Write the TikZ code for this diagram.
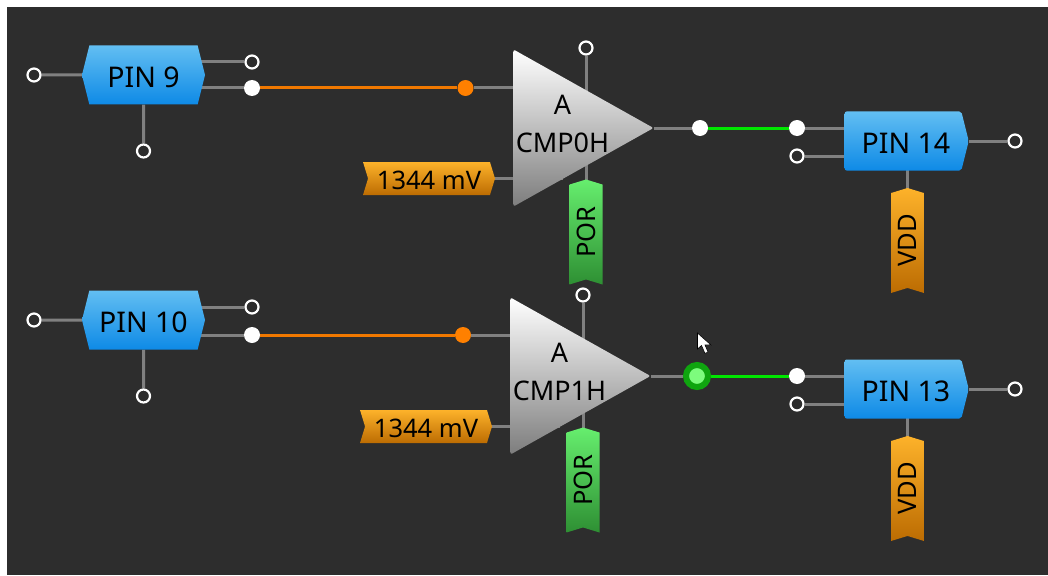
\documentclass[tikz,border=0pt]{standalone}
\usepackage{fontspec}
\setmainfont{Noto Sans}
\usetikzlibrary{shapes.geometric}
\usetikzlibrary{shapes.symbols}
\usetikzlibrary{backgrounds}
\definecolor{bgdark}{HTML}{2D2D2D}
\definecolor{wiregray}{HTML}{808080}
\definecolor{wireorange}{HTML}{F07800}
\definecolor{wiregreen}{HTML}{00E600}
\definecolor{pintop}{HTML}{62BEF2}
\definecolor{pinbot}{HTML}{0E8AE6}
\definecolor{tagtop}{HTML}{FDB22A}
\definecolor{tagbot}{HTML}{BC6C02}
\definecolor{portop}{HTML}{66EE6E}
\definecolor{porbot}{HTML}{2E8F33}
\definecolor{cmpbot}{HTML}{7D7D7D}
\definecolor{glowdark}{HTML}{0FA50F}
\definecolor{glowlight}{HTML}{7DFC7D}
\definecolor{orangedot}{HTML}{FF8000}
\tikzset{
    termo/.style = {circle, draw=white, line width=2.2pt, fill=bgdark, minimum size=13pt, inner sep=0pt},
    termw/.style = {circle, fill=white, minimum size=16pt, inner sep=0pt},
    termr/.style = {circle, fill=orangedot, minimum size=16pt, inner sep=0pt},
    termg/.style = {circle, draw=glowdark, line width=6pt, fill=glowlight, minimum size=22pt, inner sep=0pt},
    pinnode/.style = {signal, signal to=east, signal pointer angle=152, minimum width=123pt, minimum height=59pt, inner sep=0pt, text height=25pt, text depth=0pt,
        top color=pintop, bottom color=pinbot, font=\fontsize{28.5}{34}\selectfont},
    pinnodel/.style = {pinnode, signal to=east and west},
    pinnoder/.style = {pinnode, signal from=nowhere, rounded corners=2pt, minimum width=124pt, execute at begin node=\hspace*{6pt}},
    cmpnode/.style = {isosceles triangle, isosceles triangle stretches, anchor=apex, minimum width=157pt, minimum height=140pt, inner sep=0pt, rounded corners=2pt,
        top color=white, bottom color=cmpbot},
    cmptext/.style = {align=center, font=\fontsize{27}{38}\selectfont},
    tagnode/.style = {signal, signal to=east, signal from=west, signal pointer angle=146, minimum width=132pt, minimum height=33pt, inner sep=0pt,
        top color=tagtop, bottom color=tagbot, font=\fontsize{25.5}{30}\selectfont},
    tagh/.style = {tagnode, text height=21pt, text depth=0pt},
    tagv/.style = {tagnode, rotate=90, minimum width=105pt},
    tagp/.style = {tagv, top color=portop, bottom color=porbot},
    edgen/.style = {line width=3pt, wiregray},
    edger/.style = {line width=3pt, wireorange},
    edgeg/.style = {line width=3pt, wiregreen},
}

\begin{document}
\begin{tikzpicture}[x=1pt,y=-1pt]
%
\path[use as bounding box] (0,0) rectangle (1048,575);
%
\node[pinnodel] at (143.5,75) (pin9) {PIN 9};
\node[termo] at (34,75) (pin9l) {};
\node[termo] at (252,62) (pin9u) {};
\node[termw] at (252,88) (pin9o) {};
\node[termo] at (143.5,151) (pin9d) {};
%
\node[cmpnode] at (654,128) (cmp0) {};
\node[cmptext] at (562.5,124) (cmp0t) {A\\CMP0H};
\node[termr] at (465.5,88) (cmp0a) {};
\node[termo] at (586,48) (cmp0u) {};
\node[tagh] at (429,178.5) (cmp0v) {1344 mV};
\node[tagp] at (586,232) (cmp0p) {POR};
\node[termw] at (700,128) (cmp0o) {};
%
\node[pinnoder] at (903,141) (pin14) {PIN 14};
\node[termw] at (797,128) (pin14a) {};
\node[termo] at (797,156) (pin14b) {};
\node[termo] at (1015,141) (pin14r) {};
\node[tagv] at (907.5,240.5) (pin14v) {VDD};
%
\node[pinnodel] at (143.5,320) (pin10) {PIN 10};
\node[termo] at (34,320) (pin10l) {};
\node[termo] at (252,307) (pin10u) {};
\node[termw] at (252,335) (pin10o) {};
\node[termo] at (143.5,396) (pin10d) {};
%
\node[cmpnode] at (651,376) (cmp1) {};
\node[cmptext] at (559.5,372) (cmp1t) {A\\CMP1H};
\node[termr] at (463,335) (cmp1a) {};
\node[termo] at (583,295) (cmp1u) {};
\node[tagh] at (426,426.5) (cmp1v) {1344 mV};
\node[tagp] at (583,480) (cmp1p) {POR};
\node[termg] at (697,376) (cmp1o) {};
%
\node[pinnoder] at (903,389) (pin13) {PIN 13};
\node[termw] at (797,376) (pin13a) {};
\node[termo] at (797,404) (pin13b) {};
\node[termo] at (1015,389) (pin13r) {};
\node[tagv] at (907.5,488.5) (pin13v) {VDD};
%
\begin{scope}[on background layer]
\fill[bgdark] (7,7) rectangle (1048,575);
%
\draw[edgen] (pin9l) edge (pin9);
\draw[edgen] (pin9u) edge (pin9u -| pin9.center);
\draw[edgen] (pin9o) edge (pin9o -| pin9.center);
\draw[edgen] (pin9) edge (pin9d);
\draw[edger] (pin9o) edge (cmp0a);
\draw[edgen] (cmp0a) edge (cmp0a -| cmp0t.center);
\draw[edgen] (cmp0u) edge (cmp0u |- cmp0t.center);
\draw[edgen] (cmp0v.center) edge (cmp0v -| cmp0t.center);
\draw[edgen] (cmp0p.center) edge (cmp0p.center |- cmp0t.center);
\draw[edgen] (cmp0.apex) edge (cmp0o);
\draw[edgeg] (cmp0o) edge (pin14a);
\draw[edgen] (pin14a) edge (pin14a -| pin14.center);
\draw[edgen] (pin14b) edge (pin14b -| pin14.center);
\draw[edgen] (pin14) edge (pin14r);
\draw[edgen] (pin14v.center |- pin14.center) edge (pin14v.center);
%
\draw[edgen] (pin10l) edge (pin10);
\draw[edgen] (pin10u) edge (pin10u -| pin10.center);
\draw[edgen] (pin10o) edge (pin10o -| pin10.center);
\draw[edgen] (pin10) edge (pin10d);
\draw[edger] (pin10o) edge (cmp1a);
\draw[edgen] (cmp1a) edge (cmp1a -| cmp1t.center);
\draw[edgen] (cmp1u) edge (cmp1u |- cmp1t.center);
\draw[edgen] (cmp1v.center) edge (cmp1v -| cmp1t.center);
\draw[edgen] (cmp1p.center) edge (cmp1p.center |- cmp1t.center);
\draw[edgen] (cmp1.apex) edge (cmp1o);
\draw[edgeg] (cmp1o) edge (pin13a);
\draw[edgen] (pin13a) edge (pin13a -| pin13.center);
\draw[edgen] (pin13b) edge (pin13b -| pin13.center);
\draw[edgen] (pin13) edge (pin13r);
\draw[edgen] (pin13v.center |- pin13.center) edge (pin13v.center);
\end{scope}
%
\fill[white,draw=black,line width=0.6pt] (697.5,333) -- (697.5,349) -- (701.5,345.5) -- (705,353.5) -- (708,352) -- (705,345) -- (711,345) -- cycle;

\end{tikzpicture}
\end{document}
